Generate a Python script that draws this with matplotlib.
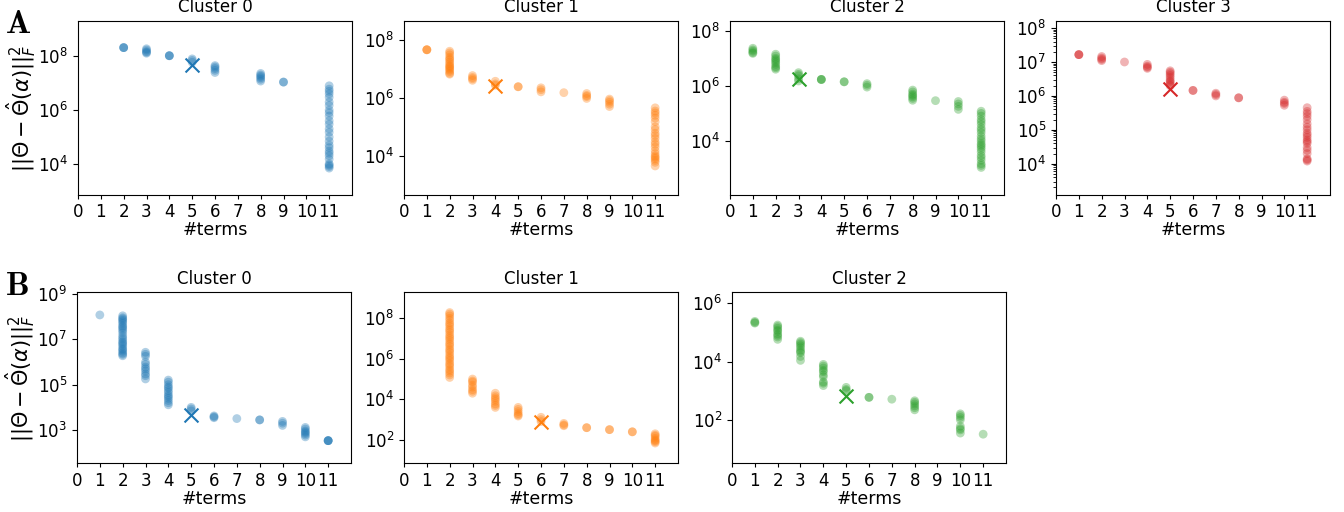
import numpy as np
import matplotlib
matplotlib.use('Agg')
import matplotlib.pyplot as plt
from matplotlib.ticker import NullFormatter

# ---- Row A ----
a0_terms = [2, 3, 4, 5, 6, 8, 9, 11]
a0_errors = [
    [2.1e8, 2.1e8, 2.1e8],
    [1.9e8, 1.7e8, 1.5e8, 1.4e8, 1.3e8],
    [1.05e8, 1.05e8, 1.05e8],
    [8e7, 7e7, 6e7],
    [4.5e7, 4e7, 3.5e7, 3e7, 2.5e7],
    [2.3e7, 2e7, 1.8e7, 1.6e7, 1.4e7, 1.2e7],
    [1.1e7, 1.1e7],
    [8e6, 6e6, 5e6, 4e6, 3e6, 2e6, 1.5e6, 1e6, 8e5, 6e5, 4e5, 3e5, 2e5, 1.5e5, 1e5,
     7e4, 5e4, 4e4, 3e4, 2.5e4, 2e4, 1.5e4, 1e4, 9e3, 8e3, 7e3],
]
a0_pick = (5, 4.9e7)

a1_terms = [1, 2, 3, 4, 5, 6, 7, 8, 9, 11]
a1_errors = [
    [4.5e7, 4.5e7, 4.5e7],
    [4e7, 3.5e7, 3e7, 2.5e7, 2.2e7, 2e7, 1.7e7, 1.5e7, 1.3e7, 1.2e7, 1.1e7, 1e7,
     9e6, 8e6, 7e6, 6.5e6],
    [5.8e6, 5e6, 4.5e6, 4e6],
    [3.7e6, 3e6, 2.7e6],
    [2.4e6, 2.4e6],
    [2.2e6, 1.9e6, 1.6e6],
    [1.5e6],
    [1.4e6, 1.2e6, 1.1e6, 9.5e5],
    [9e5, 8e5, 7e5, 6e5, 5e5],
    [4.5e5, 3.5e5, 3e5, 2.5e5, 2e5, 1.5e5, 1e5, 8e4, 6e4, 5e4, 4e4, 3e4, 2.5e4, 2e4,
     1.5e4, 1.2e4, 1e4, 9e3, 8e3, 7e3, 6e3, 4.5e3],
]
a1_pick = (4, 2.5e6)

a2_terms = [1, 2, 3, 4, 5, 6, 8, 9, 10, 11]
a2_errors = [
    [2.3e7, 2e7, 1.8e7, 1.6e7, 1.5e7],
    [1.4e7, 1.2e7, 1e7, 9e6, 8e6, 7e6, 6e6, 5e6, 4.5e6, 4e6],
    [3e6, 2.6e6, 2.3e6, 1.8e6, 1.5e6],
    [1.7e6, 1.7e6, 1.7e6],
    [1.4e6, 1.4e6],
    [1.2e6, 1.05e6, 9e5],
    [7e5, 6e5, 5e5, 4.5e5, 4e5, 3.5e5, 3e5],
    [2.9e5],
    [2.7e5, 2.2e5, 1.8e5, 1.4e5],
    [1.2e5, 1e5, 8e4, 6e4, 5e4, 4e4, 3e4, 2.5e4, 2e4, 1.5e4, 1.2e4, 1e4, 8e3, 7e3,
     6e3, 5e3, 4e3, 3e3, 2.5e3, 2e3, 1.5e3, 1.3e3, 1.1e3],
]
a2_pick = (3, 1.8e6)

a3_terms = [1, 2, 3, 4, 5, 6, 7, 8, 10, 11]
a3_errors = [
    [1.65e7, 1.65e7, 1.65e7],
    [1.45e7, 1.3e7, 1.2e7, 1.1e7],
    [1e7],
    [8.5e6, 7.5e6, 7e6, 6.5e6],
    [5.5e6, 5e6, 4.5e6, 4e6, 3.5e6, 3e6, 2.7e6, 2.5e6, 2.2e6, 2e6],
    [1.45e6, 1.45e6],
    [1.2e6, 1.1e6, 1e6],
    [8.8e5, 8.8e5],
    [7.5e5, 6.5e5, 6e5, 5.3e5],
    [4.5e5, 3.5e5, 3e5, 2.5e5, 2e5, 1.5e5, 1.2e5, 1e5, 8e4, 7e4, 6e4, 5e4, 4.5e4,
     4e4, 3e4, 2.5e4, 2e4, 1.4e4, 1.3e4, 1.2e4],
]
a3_pick = (5, 1.55e6)

# ---- Row B ----
b0_terms = [1, 2, 3, 4, 5, 6, 7, 8, 9, 10, 11]
b0_errors = [
    [1.2e8],
    [1.1e8, 9e7, 8e7, 7e7, 6e7, 5e7, 4e7, 3.5e7, 3e7, 2.5e7, 2e7, 1.5e7, 1.2e7, 1e7,
     8e6, 7e6, 6e6, 5e6, 4e6, 3.5e6, 3e6, 2.5e6, 2.2e6, 1.9e6],
    [2.7e6, 2.2e6, 1.8e6, 1e6, 8e5, 6e5, 5e5, 4e5, 3e5, 2.5e5, 1.8e5],
    [1.6e5, 1.3e5, 1e5, 8e4, 7e4, 5.5e4, 4.5e4, 3.5e4, 3e4, 2.5e4, 2e4, 1.6e4, 1.3e4],
    [1e4, 8.5e3, 7e3],
    [4.2e3, 3.8e3, 3.5e3],
    [3.2e3],
    [2.8e3, 2.8e3],
    [2.4e3, 2e3, 1.6e3],
    [1.3e3, 1.1e3, 9e2, 8e2, 7e2, 6e2, 5e2],
    [3.4e2, 3.4e2, 3.4e2, 3.4e2],
]
b0_pick = (5, 4.8e3)

b1_terms = [2, 3, 4, 5, 6, 7, 8, 9, 10, 11]
b1_errors = [
    [1.9e8, 1.6e8, 1.3e8, 1e8, 8e7, 6e7, 5e7, 4e7, 3e7, 2.5e7, 2e7, 1.5e7, 1.2e7, 1e7,
     8e6, 6e6, 5e6, 4e6, 3e6, 2.5e6, 2e6, 1.5e6, 1.2e6, 1e6, 8e5, 6e5, 5e5, 4e5,
     3e5, 2.5e5, 2e5, 1.6e5, 1.2e5],
    [1e5, 8e4, 7e4, 5e4, 4e4, 3e4, 2.5e4, 2e4],
    [2e4, 1.5e4, 1.2e4, 1e4, 8e3, 6e3, 5e3, 4e3],
    [4e3, 3.2e3, 2.5e3, 2e3, 1.7e3, 1.5e3],
    [1.3e3, 1e3, 8e2],
    [6.5e2, 5.5e2, 5e2],
    [4e2, 4e2],
    [3.2e2, 3.2e2],
    [2.5e2, 2.5e2],
    [2e2, 1.7e2, 1.5e2, 1.2e2, 1e2, 9e1, 8e1, 7e1],
]
b1_pick = (6, 8e2)

b2_terms = [1, 2, 3, 4, 5, 6, 7, 8, 10, 11]
b2_errors = [
    [2.4e5, 2.2e5, 2.1e5],
    [1.8e5, 1.6e5, 1.4e5, 1.2e5, 1.1e5, 9e4, 8e4, 7e4, 5.8e4],
    [5e4, 4.5e4, 4e4, 3.5e4, 3e4, 2.5e4, 2.2e4, 2e4, 1.5e4, 1.1e4],
    [8e3, 7e3, 6e3, 5e3, 4.5e3, 3.5e3, 3e3, 2e3, 1.8e3, 1.5e3],
    [1.3e3, 1.1e3, 1e3],
    [5.9e2, 5.9e2],
    [5.1e2],
    [4.5e2, 4e2, 3.5e2, 3e2, 2.6e2, 2.2e2],
    [1.6e2, 1.4e2, 1.2e2, 1e2, 6e1, 5e1, 4.5e1, 3.5e1],
    [3.2e1],
]
b2_pick = (5, 6.8e2)

YLABEL = r'$||\Theta - \hat{\Theta}(\alpha)||_F^2$'


def draw_panel(ax, terms, errors, pick, color, title, ylabel=False):
    xs = np.concatenate([[t] * len(v) for t, v in zip(terms, errors)])
    ys = np.concatenate([np.asarray(v, dtype=float) for v in errors])
    ax.scatter(xs, ys, s=40, color=color, alpha=0.35, edgecolors='none')
    ax.scatter([pick[0]], [pick[1]], marker='x', s=100, color=color, linewidths=1.5)
    ax.set_yscale('log')
    ax.set_ylim(ys.min() / 10, ys.max() * 10)
    ax.yaxis.set_minor_formatter(NullFormatter())
    ax.set_xlim(0, 12)
    ax.set_xticks(range(12))
    ax.tick_params(labelsize=12)
    ax.tick_params(axis='x', length=3, pad=3)
    ax.set_xlabel('#terms', fontsize=12.5, labelpad=0)
    ax.set_title(title, fontsize=12)
    if ylabel:
        ax.set_ylabel(YLABEL, fontsize=15, labelpad=0)


fig = plt.figure(figsize=(13.44, 5.12), dpi=100)
W, H = 1344.0, 512.0


def axes_at(left, top, right, bottom):
    return fig.add_axes([left / W, 1 - bottom / H, (right - left) / W, (bottom - top) / H])


row_a = [
    (a0_terms, a0_errors, a0_pick, 'tab:blue', 78),
    (a1_terms, a1_errors, a1_pick, 'tab:orange', 404),
    (a2_terms, a2_errors, a2_pick, 'tab:green', 730),
    (a3_terms, a3_errors, a3_pick, 'tab:red', 1056),
]
for i, (terms, errors, pick, color, left) in enumerate(row_a):
    ax = axes_at(left, 20.7, left + 274, 195)
    draw_panel(ax, terms, errors, pick, color, f'Cluster {i}', ylabel=(i == 0))

row_b = [
    (b0_terms, b0_errors, b0_pick, 'tab:blue', 77),
    (b1_terms, b1_errors, b1_pick, 'tab:orange', 404),
    (b2_terms, b2_errors, b2_pick, 'tab:green', 732),
]
for i, (terms, errors, pick, color, left) in enumerate(row_b):
    ax = axes_at(left, 292.3, left + 274, 463.3)
    draw_panel(ax, terms, errors, pick, color, f'Cluster {i}', ylabel=(i == 0))

# freeze the automatic decade ticks, dropping those outside the view
fig.canvas.draw()
for ax in fig.axes:
    lo, hi = ax.get_ylim()
    ticks = [t for t in ax.get_yticks() if lo <= t <= hi]
    ax.set_yticks(ticks)
    ax.set_ylim(lo, hi)

# panel letters
fig.text(5 / W, 1 - 7 / H, r'$\mathbf{A}$', math_fontfamily='cm', fontsize=24, va='top', ha='left')
fig.text(5 / W, 1 - 269 / H, r'$\mathbf{B}$', math_fontfamily='cm', fontsize=24, va='top', ha='left')

fig.savefig('out.png', dpi=100)
